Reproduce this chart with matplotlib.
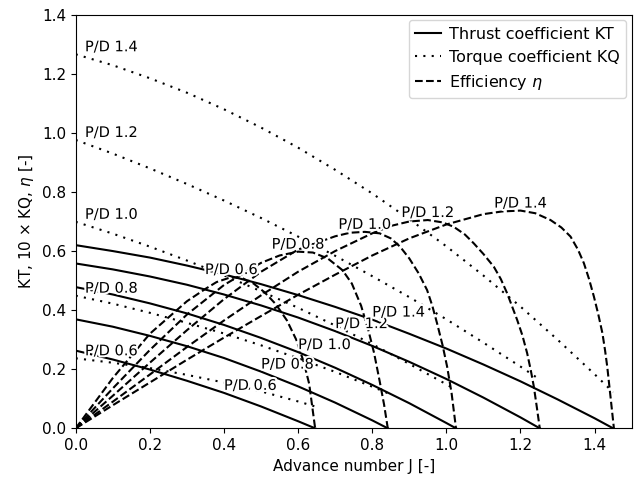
import matplotlib
matplotlib.use("Agg")
import matplotlib.pyplot as plt
import matplotlib.patheffects as pe

plt.rcParams["font.size"] = 11

pitch_ratios = ["0.6", "0.8", "1.0", "1.2", "1.4"]

# advance number J, thrust KT and 10*KQ for each P/D
J_06 = [0, 0.1, 0.2, 0.3, 0.4, 0.5, 0.6, 0.646]
KT_06 = [0.263, 0.233, 0.199, 0.161, 0.120, 0.074, 0.024, 0.0]
KQ_06 = [0.237, 0.222, 0.204, 0.181, 0.155, 0.125, 0.091, 0.074]

J_08 = [0, 0.1, 0.2, 0.3, 0.4, 0.5, 0.6, 0.7, 0.8, 0.842]
KT_08 = [0.369, 0.344, 0.313, 0.278, 0.238, 0.192, 0.142, 0.087, 0.027, 0.0]
KQ_08 = [0.449, 0.422, 0.391, 0.357, 0.321, 0.281, 0.237, 0.191, 0.141, 0.119]

J_10 = [0, 0.1, 0.2, 0.3, 0.4, 0.5, 0.6, 0.7, 0.8, 0.9, 1.0, 1.026]
KT_10 = [0.478, 0.453, 0.423, 0.389, 0.350, 0.306, 0.258, 0.205, 0.147, 0.085, 0.018, 0.0]
KQ_10 = [0.699, 0.659, 0.615, 0.568, 0.518, 0.464, 0.408, 0.348, 0.285, 0.218, 0.149, 0.130]

J_12 = [0, 0.1, 0.2, 0.3, 0.4, 0.5, 0.6, 0.7, 0.8, 0.9, 1.0, 1.1, 1.2, 1.252]
KT_12 = [0.558, 0.538, 0.514, 0.486, 0.453, 0.416, 0.375, 0.329, 0.279, 0.225, 0.167, 0.104, 0.037, 0.0]
KQ_12 = [0.976, 0.930, 0.880, 0.827, 0.771, 0.712, 0.649, 0.584, 0.515, 0.444, 0.369, 0.290, 0.209, 0.165]

J_14 = [0, 0.1, 0.2, 0.3, 0.4, 0.5, 0.6, 0.7, 0.8, 0.9, 1.0, 1.1, 1.2, 1.3, 1.4, 1.45]
KT_14 = [0.620, 0.600, 0.578, 0.551, 0.521, 0.488, 0.451, 0.411, 0.368, 0.320, 0.270, 0.216, 0.159, 0.098, 0.034, 0.0]
KQ_14 = [1.266, 1.229, 1.185, 1.136, 1.080, 1.018, 0.950, 0.875, 0.795, 0.708, 0.616, 0.517, 0.412, 0.300, 0.183, 0.122]

Je_06 = [0, 0.1, 0.2, 0.3, 0.35, 0.38, 0.42, 0.45, 0.48, 0.51, 0.54, 0.57, 0.595, 0.615, 0.63, 0.646]
eta_06 = [0, 0.17, 0.32, 0.43, 0.472, 0.495, 0.512, 0.508, 0.49, 0.46, 0.42, 0.365, 0.30, 0.225, 0.15, 0]

Je_08 = [0, 0.1, 0.2, 0.3, 0.4, 0.5, 0.55, 0.6, 0.64, 0.68, 0.72, 0.745, 0.77, 0.79, 0.805, 0.82, 0.832, 0.842]
eta_08 = [0, 0.135, 0.265, 0.385, 0.485, 0.56, 0.585, 0.598, 0.595, 0.575, 0.535, 0.49, 0.415, 0.33, 0.255, 0.16, 0.08, 0]

Je_10 = [0, 0.1, 0.2, 0.3, 0.4, 0.5, 0.6, 0.7, 0.74, 0.78, 0.82, 0.85, 0.875, 0.9, 0.925, 0.948, 0.962, 0.975, 0.99, 1.002, 1.014, 1.026]
eta_10 = [0, 0.11, 0.222, 0.332, 0.437, 0.53, 0.605, 0.65, 0.662, 0.665, 0.66, 0.643, 0.615, 0.575, 0.525, 0.468, 0.415, 0.355, 0.28, 0.209, 0.12, 0]

Je_12 = [0, 0.1, 0.2, 0.3, 0.4, 0.5, 0.6, 0.7, 0.8, 0.85, 0.9, 0.95, 0.99, 1.02, 1.05, 1.074, 1.10, 1.128, 1.147, 1.164, 1.191, 1.205, 1.218, 1.228, 1.236, 1.244, 1.252]
eta_12 = [0, 0.09, 0.182, 0.275, 0.365, 0.45, 0.53, 0.60, 0.66, 0.685, 0.70, 0.705, 0.697, 0.682, 0.656, 0.626, 0.59, 0.547, 0.505, 0.457, 0.367, 0.315, 0.254, 0.195, 0.141, 0.072, 0]

Je_14 = [0, 0.1, 0.2, 0.3, 0.4, 0.5, 0.6, 0.7, 0.8, 0.9, 1.0, 1.1, 1.15, 1.2, 1.24, 1.281, 1.31, 1.335, 1.355, 1.371, 1.385, 1.398, 1.41, 1.421, 1.428, 1.434, 1.443, 1.452]
eta_14 = [0, 0.078, 0.155, 0.232, 0.307, 0.38, 0.452, 0.52, 0.585, 0.643, 0.69, 0.725, 0.734, 0.737, 0.728, 0.705, 0.68, 0.649, 0.605, 0.559, 0.505, 0.446, 0.385, 0.322, 0.265, 0.209, 0.105, 0]

J_all = [J_06, J_08, J_10, J_12, J_14]
KT_all = [KT_06, KT_08, KT_10, KT_12, KT_14]
KQ_all = [KQ_06, KQ_08, KQ_10, KQ_12, KQ_14]
Je_all = [Je_06, Je_08, Je_10, Je_12, Je_14]
eta_all = [eta_06, eta_08, eta_10, eta_12, eta_14]

# where the KT labels sit (index in J list)
kt_label_idx = [4, 5, 6, 7, 8]

outline = [pe.withStroke(linewidth=3, foreground="white")]

fig = plt.figure(figsize=(6.35, 4.79), dpi=100)
ax = fig.add_axes([0.1192, 0.1058, 0.8756, 0.8635])

for i, pd in enumerate(pitch_ratios):
    J = J_all[i]
    kt = KT_all[i]
    kq = KQ_all[i]
    ax.plot(J, kt, color="black", linestyle="-", linewidth=1.5,
            label="Thrust coefficient KT" if i == 0 else None)
    ax.plot(J, kq, color="black", linestyle=(0, (1, 3)), linewidth=1.5,
            label="Torque coefficient KQ" if i == 0 else None)
    ax.plot(Je_all[i], eta_all[i], color="black", linestyle="--", linewidth=1.5,
            label=r"Efficiency $\eta$" if i == 0 else None)

    k = kt_label_idx[i]
    ax.text(J[k], kt[k], "P/D " + pd, ha="left", va="bottom", fontsize=10.5,
            path_effects=outline)
    ax.text(0.025, kq[0], "P/D " + pd, ha="left", va="bottom", fontsize=10.5,
            path_effects=outline)
    e = eta_all[i]
    m = e.index(max(e))
    ax.text(Je_all[i][m], e[m], "P/D " + pd, ha="center", va="bottom", fontsize=10.5,
            path_effects=outline)

ax.set_xlim(0, 1.5)
ax.set_ylim(0, 1.4)
ax.set_xlabel("Advance number J [-]")
ax.set_ylabel(r"KT, 10 × KQ, $\eta$ [-]")
ax.legend(loc="upper right", fontsize=11.5, handlelength=1.6, handletextpad=0.5,
          borderaxespad=0.35)

fig.savefig("out.png", dpi=100)
